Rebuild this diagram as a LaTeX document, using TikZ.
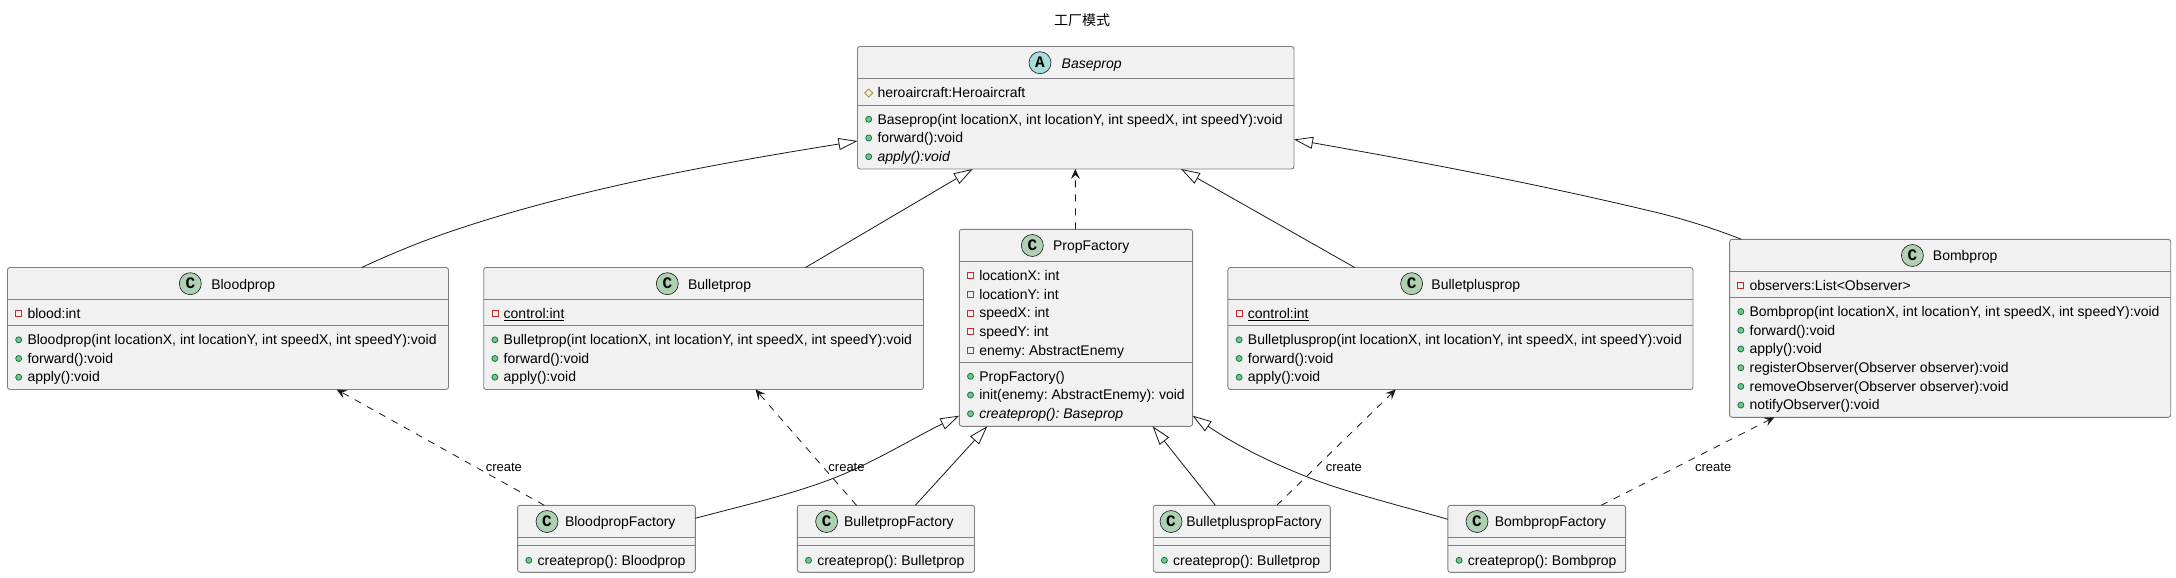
\documentclass[tikz,border=0pt]{standalone}
\usepackage{fontspec}
\setmainfont{Liberation Sans}
\newfontfamily\cjkfont{Noto Sans CJK SC}
\newfontfamily\iconfont{Liberation Mono}
\usetikzlibrary{arrows.meta}
\definecolor{boxfill}{HTML}{F1F1F1}
\definecolor{ink}{HTML}{181818}
\definecolor{boxline}{HTML}{808080}
\definecolor{classicon}{HTML}{ADD1B2}
\definecolor{abstracticon}{HTML}{A9DCDF}
\definecolor{pubfill}{HTML}{84BE84}
\definecolor{publine}{HTML}{038048}
\definecolor{privline}{HTML}{C82930}
\definecolor{protline}{HTML}{B38D22}
\tikzset{
  umlbox/.style={draw=boxline,line width=.9pt,fill=boxfill,rounded corners=2.5pt,inner sep=0pt,outer sep=0pt,anchor=north west},
  sepline/.style={draw=boxline,line width=.9pt},
  nametext/.style={inner sep=0pt,outer sep=0pt,anchor=base west,font=\fontsize{14}{16}\selectfont\frenchspacing,text=black},
  rowtext/.style={inner sep=0pt,outer sep=0pt,anchor=base west,font=\fontsize{14}{16}\selectfont\frenchspacing,text=black},
  edgelabel/.style={inner sep=0pt,outer sep=0pt,anchor=center,font=\fontsize{13}{15}\selectfont,text=black},
  titletext/.style={inner sep=0pt,outer sep=0pt,anchor=center,font=\cjkfont\fontsize{14}{16}\selectfont,text=black},
  icontext/.style={inner sep=0pt,outer sep=0pt,anchor=center,font=\iconfont\bfseries\fontsize{16}{16}\selectfont,text=black},
  inherit/.style={draw=ink,line width=.8pt,-{Triangle[open,length=19pt,width=12pt,fill=white]}},
  depend/.style={draw=ink,line width=.8pt,dash pattern=on 7pt off 7pt,-{Stealth[length=10pt,width=9pt,inset=4pt,fill=ink]}},
}
% id, x1, y1, x2, y2, sep1, sep2, icon fill, letter, icon x, name x, name text
\newcommand\umlclass[9]{%
  \node[umlbox,minimum width=#4pt-#2pt,minimum height=#5pt-#3pt] (#1) at (#2,#3) {};
  \draw[sepline] ([yshift=-#6pt]#1.north west) -- ([yshift=-#6pt]#1.north east);
  \draw[sepline] ([yshift=-#7pt]#1.north west) -- ([yshift=-#7pt]#1.north east);
  \def\tmpfill{#8}\def\tmpletter{#9}\umlclassrest{#1}%
}
\newcommand\umlclassrest[4]{%
  \path[draw=ink,line width=.6pt,fill=\tmpfill] (#2,{\csname ytop#1\endcsname}) circle[radius=11pt];
  \node[icontext] (#1-icon) at (#2,{\csname ytop#1\endcsname}) {\tmpletter};
  \node[nametext] (#1-name) at (#3,{\csname ybase#1\endcsname}) {#4};
}
% id, index, baseline offset, kind, text
\newcommand\umlrow[5]{%
  \umlicon{#4}{([xshift=11.2pt,yshift=-#3pt+4.7pt]#1.north west)}
  \node[rowtext] (#1-r#2) at ([xshift=20pt,yshift=-#3pt]#1.north west) {#5};
}
\newcommand\umlicon[2]{%
  \ifx#1p\fill[fill=pubfill,draw=publine,line width=.8pt] #2 circle[radius=3pt];\fi
  \ifx#1s\draw[draw=privline,line width=.8pt] #2 ++(-3pt,-3pt) rectangle ++(6pt,6pt);\fi
  \ifx#1d\draw[draw=protline,line width=.8pt] #2 ++(-4pt,0pt) -- ++(4pt,4pt) -- ++(4pt,-4pt) -- ++(-4pt,-4pt) -- cycle;\fi
}
\newcommand\setclassy[2]{%
  \expandafter\def\csname ytop#1\endcsname{#2+16.2}%
  \expandafter\def\csname ybase#1\endcsname{#2+21.5}%
}
\begin{document}
\begin{tikzpicture}[x=1pt,y=-1pt]
\useasboundingbox (0,0) rectangle (2176,578);
\fill[white] (0,0) rectangle (2176,578);

\node[titletext] (title) at (1082,20) {工厂模式};

\setclassy{base}{46.5}
\umlclass{base}{857.5}{46.5}{1294}{169}{32.2}{58.8}{abstracticon}{A}{1040}{1061.7}{\itshape Baseprop}
\umlrow{base}{1}{51.2}{d}{heroaircraft:Heroaircraft}
\umlrow{base}{2}{77.5}{p}{Baseprop(int locationX, int locationY, int speedX, int speedY):void}
\umlrow{base}{3}{96.2}{p}{forward():void}
\umlrow{base}{4}{114.9}{p}{\itshape apply():void}

\setclassy{blood}{267.5}
\umlclass{blood}{7.5}{267.5}{448.5}{389.5}{32}{58.2}{classicon}{C}{190.3}{211.3}{Bloodprop}
\umlrow{blood}{1}{51}{s}{blood:int}
\umlrow{blood}{2}{77}{p}{Bloodprop(int locationX, int locationY, int speedX, int speedY):void}
\umlrow{blood}{3}{95.7}{p}{forward():void}
\umlrow{blood}{4}{114.4}{p}{apply():void}

\setclassy{bullet}{267.5}
\umlclass{bullet}{483.7}{267.5}{923.5}{389.5}{32}{58.2}{classicon}{C}{667.3}{688}{Bulletprop}
\umlrow{bullet}{1}{51}{s}{\underline{control:int}}
\umlrow{bullet}{2}{77}{p}{Bulletprop(int locationX, int locationY, int speedX, int speedY):void}
\umlrow{bullet}{3}{95.7}{p}{forward():void}
\umlrow{bullet}{4}{114.4}{p}{apply():void}

\setclassy{factory}{229.3}
\umlclass{factory}{959.3}{229.3}{1192.6}{426.3}{32}{133}{classicon}{C}{1032.3}{1053}{PropFactory}
\umlrow{factory}{1}{51}{s}{locationX: int}
\umlrow{factory}{2}{69.7}{s}{locationY: int}
\umlrow{factory}{3}{88.4}{s}{speedX: int}
\umlrow{factory}{4}{107.1}{s}{speedY: int}
\umlrow{factory}{5}{125.8}{s}{enemy: AbstractEnemy}
\umlrow{factory}{6}{151.7}{p}{PropFactory()}
\umlrow{factory}{7}{170.4}{p}{init(enemy: AbstractEnemy): void}
\umlrow{factory}{8}{189.1}{p}{\itshape createprop(): Baseprop}

\setclassy{plus}{267.5}
\umlclass{plus}{1227.9}{267.5}{1693}{389.5}{32}{58.2}{classicon}{C}{1411.6}{1431.4}{Bulletplusprop}
\umlrow{plus}{1}{51}{s}{\underline{control:int}}
\umlrow{plus}{2}{77}{p}{Bulletplusprop(int locationX, int locationY, int speedX, int speedY):void}
\umlrow{plus}{3}{95.7}{p}{forward():void}
\umlrow{plus}{4}{114.4}{p}{apply():void}

\setclassy{bomb}{239.3}
\umlclass{bomb}{1729.6}{239.3}{2170.7}{417.3}{32.4}{58}{classicon}{C}{1912.4}{1932.9}{Bombprop}
\umlrow{bomb}{1}{51}{s}{observers:List<Observer>}
\umlrow{bomb}{2}{77}{p}{Bombprop(int locationX, int locationY, int speedX, int speedY):void}
\umlrow{bomb}{3}{95.7}{p}{forward():void}
\umlrow{bomb}{4}{114.4}{p}{apply():void}
\umlrow{bomb}{5}{133.1}{p}{registerObserver(Observer observer):void}
\umlrow{bomb}{6}{151.8}{p}{removeObserver(Observer observer):void}
\umlrow{bomb}{7}{170.5}{p}{notifyObserver():void}

\setclassy{bloodf}{505.3}
\umlclass{bloodf}{517.6}{505.3}{695.3}{572.3}{32}{40}{classicon}{C}{547}{565}{BloodpropFactory}
\umlrow{bloodf}{1}{59.7}{p}{createprop(): Bloodprop}

\setclassy{bulletf}{505.3}
\umlclass{bulletf}{797.3}{505.3}{974.5}{572.3}{32}{40}{classicon}{C}{826.6}{844}{BulletpropFactory}
\umlrow{bulletf}{1}{59.7}{p}{createprop(): Bulletprop}

\setclassy{plusf}{505.3}
\umlclass{plusf}{1153.2}{505.3}{1330.3}{572.3}{32}{40}{classicon}{C}{1171}{1186.3}{BulletpluspropFactory}
\umlrow{plusf}{1}{59.7}{p}{createprop(): Bulletprop}

\setclassy{bombf}{505.3}
\umlclass{bombf}{1447.9}{505.3}{1625.6}{572.3}{32}{40}{classicon}{C}{1477}{1494.8}{BombpropFactory}
\umlrow{bombf}{1}{59.7}{p}{createprop(): Bombprop}

% inheritance to Baseprop
\draw[inherit] ([xshift=354.2pt]blood.north west) .. controls (395,252) and (425,240) .. (458,229) .. controls (590,185) and (740,160) .. ([yshift=-94.5pt]base.north west);
\draw[inherit] ([xshift=321.8pt]bullet.north west) -- ([xshift=115.2pt]base.south west);
\draw[inherit] ([xshift=126.8pt]plus.north west) -- ([xshift=323.5pt]base.south west);
\draw[inherit] ([xshift=11.9pt]bomb.north west) .. controls (1715,229) and (1690,221) .. (1660,213.3) .. controls (1530,182) and (1410,160) .. ([yshift=-93pt]base.north east);

% dependency to Baseprop
\draw[depend] ([xshift=116.2pt]factory.north west) -- ([xshift=217.8pt]base.south west);

% inheritance to PropFactory
\draw[inherit] ([yshift=-13pt]bloodf.north east) .. controls (745,505) and (790,495) .. (833.3,478.3) .. controls (875,462) and (915,437) .. ([yshift=-186.4pt]factory.north west);
\draw[inherit] ([xshift=118pt]bulletf.north west) -- ([xshift=28pt]factory.south west);
\draw[inherit] ([xshift=62.1pt]plusf.north west) -- ([xshift=193.3pt]factory.south west);
\draw[inherit] ([yshift=-14pt]bombf.north west) .. controls (1398,505) and (1345,492) .. (1306.7,476.7) .. controls (1275,464) and (1240,448) .. ([yshift=-186.4pt]factory.north east);

% create dependencies
\draw[depend] ([xshift=26.7pt]bloodf.north west) -- ([xshift=329.2pt]blood.south west);
\draw[depend] ([xshift=59.2pt]bulletf.north west) -- ([xshift=271.8pt]bullet.south west);
\draw[depend] ([xshift=123.6pt]plusf.north west) -- ([xshift=167.8pt]plus.south west);
\draw[depend] ([xshift=153.3pt]bombf.north west) -- ([xshift=44.7pt]bomb.south west);

\node[edgelabel] (lab1) at (503.9,467.7) {create};
\node[edgelabel] (lab2) at (846.5,467.7) {create};
\node[edgelabel] (lab3) at (1343.8,467.7) {create};
\node[edgelabel] (lab4) at (1713.2,467.7) {create};
\end{tikzpicture}
\end{document}
